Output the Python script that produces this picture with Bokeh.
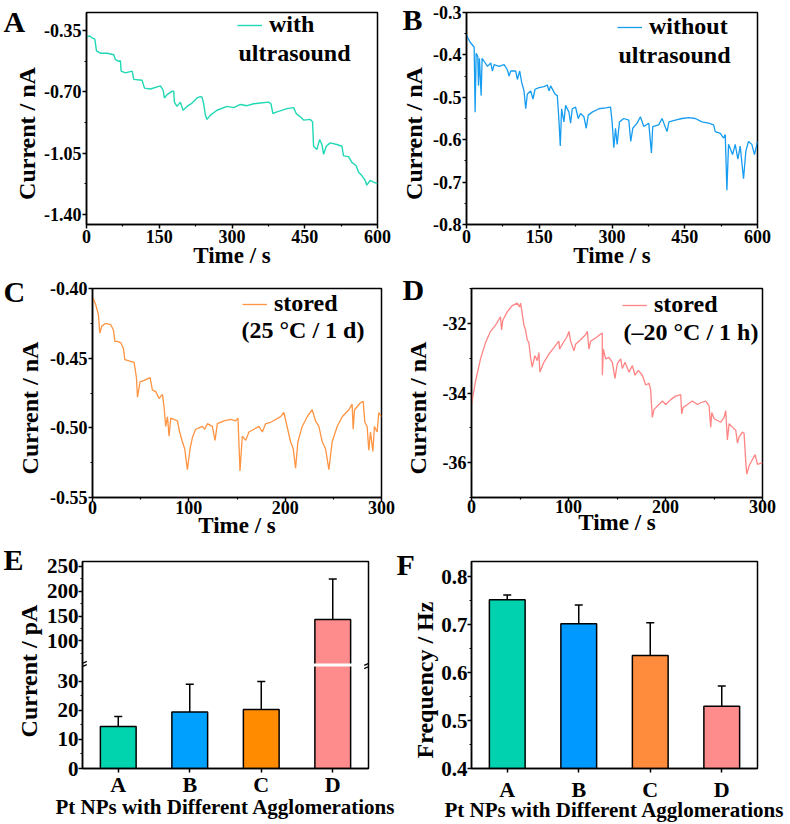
from bokeh.plotting import figure
from bokeh.layouts import column, row
from bokeh.models import (Range1d, FixedTicker, NumeralTickFormatter, Legend, LegendItem,
                          Label, Whisker, TeeHead, ColumnDataSource, Arrow)
from bokeh.embed import file_html
from bokeh.resources import INLINE

FONT = "Liberation Serif"
NB = "\u00a0"

# ---------------- data ----------------
a_time = [0, 6.9, 11.7, 17.2, 20.6, 28.8, 42.6, 56.3, 59.7, 66.6, 70.0, 71.4, 80.3, 94.1, 97.5, 114.6,
          119.5, 131.8, 152.4, 157.9, 160.6, 166.1, 176.4, 179.9, 181.2, 186.7, 193.6, 199.1, 207.3,
          217.6, 227.9, 234.8, 238.2, 241.6, 245.1, 248.5, 255.4, 269.1, 289.7, 303.4, 317.2, 330.9,
          344.6, 358.4, 375.5, 380.3, 384.4, 392.7, 413.3, 427.0, 432.5, 440.7, 447.6, 461.3, 466.1,
          468.2, 475.1, 480.6, 485.4, 488.8, 494.3, 502.5, 516.3, 526.6, 530.0, 540.3, 547.2, 556.1,
          560.9, 567.7, 574.6, 578.0, 584.9, 591.8, 600.0]
a_current = [-0.387, -0.382, -0.393, -0.400, -0.467, -0.480, -0.480, -0.489, -0.517, -0.527, -0.523,
             -0.582, -0.592, -0.582, -0.629, -0.634, -0.679, -0.684, -0.666, -0.690, -0.735, -0.716,
             -0.697, -0.697, -0.759, -0.783, -0.759, -0.805, -0.783, -0.764, -0.735, -0.727, -0.731,
             -0.768, -0.833, -0.857, -0.833, -0.805, -0.783, -0.790, -0.772, -0.779, -0.768, -0.764,
             -0.759, -0.768, -0.824, -0.814, -0.796, -0.790, -0.824, -0.842, -0.861, -0.857, -0.870,
             -1.010, -1.028, -0.972, -1.000, -1.056, -1.010, -0.991, -1.000, -1.010, -1.065, -1.069,
             -1.102, -1.121, -1.158, -1.177, -1.205, -1.232, -1.205, -1.214, -1.223]

b_time = [0, 6.9, 15.8, 17.8, 19.9, 23.3, 24.7, 26.7, 30.2, 32.2, 36.3, 43.2, 50.1, 53.5, 56.9, 67.2,
          77.5, 84.3, 87.8, 91.2, 101.5, 104.9, 109.7, 113.8, 118.6, 122.1, 125.5, 132.3, 137.1, 141.3,
          149.5, 159.8, 166.6, 170.1, 173.5, 182.4, 187.2, 190.6, 193.4, 196.1, 200.9, 204.3, 211.2,
          214.6, 218.1, 224.9, 230.4, 235.2, 242.1, 246.9, 251.0, 259.2, 272.9, 286.6, 296.9, 300.3,
          303.8, 307.2, 310.6, 315.4, 324.3, 334.6, 338.7, 342.9, 351.8, 358.6, 365.5, 375.8, 381.3,
          384.0, 396.3, 403.2, 413.5, 417.4, 430.6, 444.3, 458.1, 471.8, 485.5, 499.2, 509.5, 512.9,
          523.2, 530.1, 533.5, 536.9, 540.3, 548.6, 554.0, 559.5, 564.3, 571.2, 576.0, 581.5, 588.3,
          593.8, 600]
b_current = [-0.354, -0.369, -0.382, -0.535, -0.396, -0.404, -0.473, -0.408, -0.496, -0.408, -0.415,
             -0.427, -0.419, -0.438, -0.423, -0.427, -0.423, -0.435, -0.450, -0.438, -0.438, -0.458,
             -0.438, -0.465, -0.485, -0.527, -0.492, -0.485, -0.504, -0.481, -0.477, -0.475, -0.471,
             -0.485, -0.473, -0.492, -0.496, -0.554, -0.615, -0.527, -0.558, -0.519, -0.535, -0.561,
             -0.527, -0.523, -0.550, -0.538, -0.546, -0.573, -0.542, -0.535, -0.527, -0.525, -0.523,
             -0.558, -0.619, -0.573, -0.611, -0.558, -0.550, -0.554, -0.604, -0.573, -0.561, -0.546,
             -0.569, -0.561, -0.631, -0.569, -0.565, -0.550, -0.581, -0.558, -0.554, -0.550, -0.548,
             -0.550, -0.558, -0.561, -0.565, -0.581, -0.585, -0.596, -0.588, -0.719, -0.611, -0.635,
             -0.611, -0.646, -0.615, -0.692, -0.627, -0.604, -0.611, -0.635, -0.604]

c_time = [0.7, 3.5, 6.2, 7.6, 9.7, 13.8, 19.0, 21.8, 23.2, 25.9, 29.4, 32.1, 33.5, 38.0, 43.2, 45.6,
          46.7, 49.4, 53.6, 59.8, 62.2, 65.7, 69.1, 72.6, 74.3, 76.0, 77.8, 79.5, 81.2, 84.7, 88.1,
          90.5, 93.3, 95.7, 98.5, 101.3, 103.7, 107.1, 110.6, 114.0, 116.5, 119.2, 124.4, 127.2, 129.6,
          136.5, 143.4, 148.6, 151.0, 153.1, 155.5, 159.0, 162.4, 167.6, 172.8, 176.3, 179.7, 184.9,
          190.1, 195.3, 198.7, 205.6, 208.4, 210.8, 213.2, 217.7, 222.9, 228.1, 231.5, 235.0, 238.5,
          241.9, 245.4, 248.8, 254.0, 259.2, 266.1, 269.5, 270.6, 272.0, 278.2, 281.0, 282.7, 285.1,
          286.8, 288.6, 291.0, 292.7, 295.5, 297.2, 300]
c_current = [-0.407, -0.412, -0.419, -0.432, -0.427, -0.425, -0.426, -0.430, -0.438, -0.438, -0.439,
             -0.443, -0.451, -0.452, -0.453, -0.464, -0.478, -0.467, -0.466, -0.464, -0.473, -0.474,
             -0.479, -0.476, -0.485, -0.499, -0.492, -0.506, -0.493, -0.494, -0.495, -0.503, -0.510,
             -0.515, -0.530, -0.515, -0.507, -0.501, -0.500, -0.499, -0.501, -0.497, -0.499, -0.509,
             -0.497, -0.495, -0.494, -0.495, -0.493, -0.531, -0.506, -0.509, -0.503, -0.501, -0.499,
             -0.503, -0.497, -0.496, -0.494, -0.492, -0.489, -0.510, -0.515, -0.529, -0.510, -0.499,
             -0.492, -0.487, -0.495, -0.499, -0.510, -0.515, -0.530, -0.510, -0.499, -0.492, -0.487,
             -0.483, -0.501, -0.487, -0.482, -0.481, -0.496, -0.499, -0.516, -0.503, -0.517, -0.499,
             -0.503, -0.489, -0.492]

d_time = [0, 4.1, 9.3, 14.4, 19.6, 24.8, 29.9, 31.0, 32.3, 36.8, 42.0, 47.1, 49.5, 50.6, 52.3, 54.0,
          55.7, 57.4, 59.2, 60.9, 62.6, 65.4, 67.8, 69.5, 70.5, 74.6, 79.8, 85.0, 90.1, 90.8, 93.6,
          98.7, 100.4, 102.2, 105.6, 107.3, 112.5, 117.6, 119.4, 121.1, 122.8, 128.0, 132.1, 134.8,
          134.9, 135.9, 138.3, 141.7, 145.2, 147.9, 150.3, 153.8, 155.5, 158.2, 162.4, 165.8, 168.6,
          172.0, 176.1, 179.6, 183.0, 184.7, 186.4, 188.2, 193.3, 196.8, 200.2, 205.4, 210.5, 215.7,
          216.7, 218.1, 222.6, 227.7, 232.9, 236.3, 241.5, 244.9, 246.6, 247.7, 250.1, 253.5, 257.0,
          260.4, 262.1, 263.8, 265.6, 269.0, 272.4, 274.2, 275.9, 279.3, 281.0, 282.8, 283.8, 286.2,
          289.6, 292.4, 294.8, 300]
d_current = [-34.33, -33.67, -33.02, -32.56, -32.23, -32.05, -31.81, -32.19, -31.91, -31.67, -31.49,
             -31.42, -31.53, -31.42, -31.72, -32.05, -32.19, -32.47, -32.56, -32.98, -33.26, -32.93,
             -33.07, -32.84, -33.40, -33.12, -32.88, -32.70, -32.51, -32.74, -32.60, -32.37, -32.23,
             -32.51, -32.79, -32.60, -32.47, -32.33, -32.23, -32.74, -32.51, -32.42, -32.33, -32.28,
             -33.49, -32.74, -33.02, -32.98, -33.12, -33.58, -33.16, -33.02, -33.30, -33.12, -33.40,
             -33.21, -33.49, -33.35, -33.49, -33.77, -33.72, -33.91, -34.70, -34.47, -34.33, -34.23,
             -34.33, -34.19, -34.09, -34.05, -34.60, -34.42, -34.33, -34.23, -34.33, -34.28, -34.23,
             -34.37, -34.98, -34.56, -34.74, -34.79, -34.84, -34.70, -34.51, -35.35, -34.88, -34.98,
             -35.07, -35.44, -35.26, -35.12, -35.16, -36.00, -36.33, -36.09, -35.91, -35.77, -36.05,
             -36.00]

groups = ["A", "B", "C", "D"]
e_current_pA = [14.4, 19.4, 20.25, 143.0]
e_error_pA = [3.45, 9.5, 9.65, 81.0]
f_frequency = [0.752, 0.702, 0.636, 0.530]
f_error = [0.010, 0.039, 0.068, 0.042]

e_colors = ["#00D4AE", "#00A0FF", "#FF8C00", "#FF8C8C"]
f_colors = ["#00D2B0", "#0099FF", "#FF8C3C", "#FF8C8C"]

# ---------------- helpers ----------------

def make_fig(w, h, bl, br, bt, bb, xr, yr, tick_size="18px"):
    p = figure(width=w, height=h, x_range=Range1d(*xr), y_range=Range1d(*yr),
               output_backend="svg", toolbar_location=None,
               min_border_left=bl, min_border_right=br, min_border_top=bt, min_border_bottom=bb)
    p.xgrid.visible = False
    p.ygrid.visible = False
    p.outline_line_color = "black"
    p.outline_line_width = 1.5
    p.outline_line_alpha = 1.0
    p.background_fill_color = "white"
    p.border_fill_color = "white"
    for ax in (p.xaxis[0], p.yaxis[0]):
        ax.axis_line_width = 1.5
        ax.axis_line_color = "black"
        ax.major_tick_in = 0
        ax.major_tick_out = 4
        ax.minor_tick_in = 0
        ax.minor_tick_out = 2
        ax.major_tick_line_width = 1.5
        ax.minor_tick_line_width = 1.2
        ax.major_label_text_font = FONT
        ax.major_label_text_font_style = "bold"
        ax.major_label_text_font_size = tick_size
        ax.major_label_text_color = "black"
        ax.axis_label_text_font = FONT
        ax.axis_label_text_font_style = "bold"
        ax.axis_label_text_color = "black"
    p.yaxis.major_label_standoff = 1
    return p


def add_legend(p, renderer, first, second, vx, vy, lx, ly):
    leg = Legend(items=[LegendItem(label=first, renderers=[renderer])], location=(vx, vy),
                 padding=0, margin=0, spacing=0, glyph_width=25, glyph_height=20, label_height=20,
                 label_standoff=7, border_line_alpha=0, background_fill_alpha=0,
                 label_text_font=FONT, label_text_font_style="bold", label_text_font_size="24px",
                 label_text_color="black")
    p.add_layout(leg)
    p.add_layout(Label(x=lx, y=ly, x_units="screen", y_units="screen", text=second,
                       text_font=FONT, text_font_style="bold", text_font_size="24px",
                       text_color="black", text_baseline="middle"))


def set_letter(p, letter, offset, standoff):
    # panel letter drawn as the figure title, pulled left of / down beside the frame
    p.title.text = letter
    p.title.align = "left"
    p.title.vertical_align = "bottom"
    p.title.offset = offset
    p.title.standoff = standoff
    p.title.text_font = FONT
    p.title.text_font_style = "bold"
    p.title.text_font_size = "30px"
    p.title.text_color = "black"


YLAB_PAD = NB * 5   # label sits a little below the frame centre in the original

# ---------------- A ----------------
pA = make_fig(395, 270, 86, 18, 10, 43, (0, 600), (-1.456, -0.248))
pA.xaxis.ticker = FixedTicker(ticks=[0, 150, 300, 450, 600], minor_ticks=[75, 225, 375, 525])
pA.yaxis.ticker = FixedTicker(ticks=[-0.35, -0.70, -1.05, -1.40], minor_ticks=[-0.525, -0.875, -1.225])
pA.yaxis.formatter = NumeralTickFormatter(format="0.00")
pA.xaxis.axis_label = "Time / s"
pA.yaxis.axis_label = "Current / nA" + YLAB_PAD
pA.xaxis.axis_label_text_font_size = "23px"
pA.yaxis.axis_label_text_font_size = "24px"
pA.yaxis.axis_label_standoff = 1
pA.xaxis.major_label_standoff = 1
pA.xaxis.axis_label_standoff = -3
rA = pA.line(a_time, a_current, line_color="#20D8B4", line_width=1.4)
add_legend(pA, rA, "with", "ultrasound", 151, 186, 152, 172)
set_letter(pA, "A", -83, -50)

# ---------------- B ----------------
pB = make_fig(395, 270, 71, 33, 12, 42, (0, 600), (-0.8, -0.3))
pB.xaxis.ticker = FixedTicker(ticks=[0, 150, 300, 450, 600], minor_ticks=[75, 225, 375, 525])
pB.yaxis.ticker = FixedTicker(ticks=[-0.3, -0.4, -0.5, -0.6, -0.7, -0.8],
                              minor_ticks=[-0.35, -0.45, -0.55, -0.65, -0.75])
pB.yaxis.formatter = NumeralTickFormatter(format="0.0")
pB.xaxis.axis_label = "Time / s"
pB.yaxis.axis_label = "Current / nA" + YLAB_PAD
pB.xaxis.axis_label_text_font_size = "23px"
pB.yaxis.axis_label_text_font_size = "24px"
pB.yaxis.axis_label_standoff = 3
pB.xaxis.major_label_standoff = 1
pB.xaxis.axis_label_standoff = -3
rB = pB.line(b_time, b_current, line_color="#169CF0", line_width=1.3)
add_legend(pB, rB, "without", "ultrasound", 151, 184, 152, 170)
set_letter(pB, "B", -64, -46)

# ---------------- C ----------------
pC = make_fig(395, 270, 92, 14, 16, 40, (0, 300), (-0.55, -0.40))
pC.xaxis.ticker = FixedTicker(ticks=[0, 100, 200, 300], minor_ticks=[50, 150, 250])
pC.yaxis.ticker = FixedTicker(ticks=[-0.40, -0.45, -0.50, -0.55], minor_ticks=[-0.425, -0.475, -0.525])
pC.yaxis.formatter = NumeralTickFormatter(format="0.00")
pC.xaxis.axis_label = "Time / s"
pC.yaxis.axis_label = "Current / nA" + YLAB_PAD
pC.xaxis.axis_label_text_font_size = "23px"
pC.yaxis.axis_label_text_font_size = "24px"
pC.yaxis.axis_label_standoff = 4
pC.xaxis.major_label_standoff = -1
pC.xaxis.axis_label_standoff = -4
rC = pC.line(c_time, c_current, line_color="#FF9442", line_width=1.3)
add_legend(pC, rC, "stored", "(25 °C / 1 d)", 150, 180, 149, 168)
set_letter(pC, "C", -89, -38)

# ---------------- D ----------------
pD = make_fig(395, 270, 76, 28, 18, 37, (0, 300), (-37, -31))
pD.xaxis.ticker = FixedTicker(ticks=[0, 100, 200, 300], minor_ticks=[50, 150, 250])
pD.yaxis.ticker = FixedTicker(ticks=[-32, -34, -36], minor_ticks=[-31, -33, -35, -37])
pD.yaxis.formatter = NumeralTickFormatter(format="0")
pD.xaxis.axis_label = "Time / s"
pD.yaxis.axis_label = "Current / nA" + YLAB_PAD
pD.xaxis.axis_label_text_font_size = "23px"
pD.yaxis.axis_label_text_font_size = "24px"
pD.yaxis.axis_label_standoff = 9
pD.xaxis.major_label_standoff = -2
pD.xaxis.axis_label_standoff = -6
rD = pD.line(d_time, d_current, line_color="#FF8585", line_width=1.3)
add_legend(pD, rD, "stored", "(\u201320 °C / 1 h)", 151, 179, 152, 166)
set_letter(pD, "D", -69, -34)

# ---------------- E (broken axis) ----------------
LOW_MAX = 35.0       # top of lower segment (pA)
GAP_TOP = 36.1       # display position where upper segment starts
UPPER_MIN = 55.0     # value at start of upper segment (pA)
UPPER_K = 0.1713     # display units per pA in upper segment
E_DISPLAY_TOP = 71.1


def disp(v):
    return v if v <= LOW_MAX else GAP_TOP + (v - UPPER_MIN) * UPPER_K


x_pos = [1, 2, 3, 4]
pE = make_fig(395, 284, 82, 27, 21, 52, (0.5, 4.5), (0, E_DISPLAY_TOP), tick_size="21px")
low_ticks = [0.0, 10.0, 20.0, 30.0]
up_ticks = [100.0, 150.0, 200.0, 250.0]
major_e = low_ticks + [disp(v) for v in up_ticks]
minor_e = [5.0, 15.0, 25.0] + [disp(v) for v in [75.0, 125.0, 175.0, 225.0]]
pE.yaxis.ticker = FixedTicker(ticks=major_e, minor_ticks=minor_e)
pE.yaxis.major_label_overrides = {t: str(int(v)) for t, v in zip(major_e, low_ticks + up_ticks)}
pE.xaxis.ticker = FixedTicker(ticks=x_pos, minor_ticks=[])
pE.xaxis.major_label_overrides = {x: g for x, g in zip(x_pos, groups)}
pE.xaxis.major_label_text_font_size = "22px"
pE.xaxis.axis_label = "Pt NPs with Different Agglomerations"
pE.yaxis.axis_label = "Current / pA" + NB * 2
pE.xaxis.axis_label_text_font_size = "21px"
pE.yaxis.axis_label_text_font_size = "24px"
pE.yaxis.major_label_standoff = 0
pE.yaxis.axis_label_standoff = 2
pE.xaxis.major_label_standoff = -1
pE.xaxis.axis_label_standoff = -5
pE.vbar(x=x_pos, top=[disp(v) for v in e_current_pA], bottom=0, width=0.5,
        fill_color=e_colors, line_color="black", line_width=1.5)
brk = [x for x, v in zip(x_pos, e_current_pA) if v > LOW_MAX]
pE.quad(left=[x - 0.27 for x in brk], right=[x + 0.27 for x in brk],
        bottom=LOW_MAX, top=GAP_TOP, fill_color="white", line_color=None)
e_src = ColumnDataSource(dict(
    base=x_pos,
    upper=[disp(v + e) for v, e in zip(e_current_pA, e_error_pA)],
    lower=[disp(v - e) for v, e in zip(e_current_pA, e_error_pA)]))
pE.add_layout(Whisker(source=e_src, base="base", upper="upper", lower="lower",
                      line_color="black", line_width=1.5,
                      upper_head=TeeHead(size=8, line_width=1.5, line_color="black"),
                      lower_head=TeeHead(size=8, line_width=1.5, line_color="black")))
brk_mid = (LOW_MAX + GAP_TOP) / 2
for xb in (0.5, 4.5):
    for off in (-0.55, 0.55):
        pE.add_layout(Arrow(x_start=xb - 0.06, y_start=brk_mid + off - 0.7,
                            x_end=xb + 0.06, y_end=brk_mid + off + 0.7,
                            start=None, end=None, line_color="black", line_width=1.3))
set_letter(pE, "E", -79, -28)

# ---------------- F ----------------
pF = make_fig(395, 284, 76, 33, 16, 55, (0.5, 4.5), (0.4, 0.832), tick_size="21px")
pF.yaxis.ticker = FixedTicker(ticks=[0.4, 0.5, 0.6, 0.7, 0.8], minor_ticks=[0.45, 0.55, 0.65, 0.75])
pF.yaxis.formatter = NumeralTickFormatter(format="0.0")
pF.xaxis.ticker = FixedTicker(ticks=x_pos, minor_ticks=[])
pF.xaxis.major_label_overrides = {x: g for x, g in zip(x_pos, groups)}
pF.xaxis.major_label_text_font_size = "22px"
pF.xaxis.axis_label = "Pt NPs with Different Agglomerations"
pF.yaxis.axis_label = "Frequency / Hz" + YLAB_PAD
pF.xaxis.axis_label_text_font_size = "21px"
pF.yaxis.axis_label_text_font_size = "24px"
pF.yaxis.major_label_standoff = 0
pF.yaxis.axis_label_standoff = 0
pF.xaxis.major_label_standoff = 4
pF.xaxis.axis_label_standoff = -7
pF.vbar(x=x_pos, top=f_frequency, bottom=0, width=0.5,
        fill_color=f_colors, line_color="black", line_width=1.5)
f_src = ColumnDataSource(dict(
    base=x_pos,
    upper=[v + e for v, e in zip(f_frequency, f_error)],
    lower=[v - e for v, e in zip(f_frequency, f_error)]))
pF.add_layout(Whisker(source=f_src, base="base", upper="upper", lower="lower",
                      line_color="black", line_width=1.5,
                      upper_head=TeeHead(size=8, line_width=1.5, line_color="black"),
                      lower_head=TeeHead(size=8, line_width=1.5, line_color="black")))
set_letter(pF, "F", -75, -38)

layout = column(row(pA, pB, spacing=0), row(pC, pD, spacing=0), row(pE, pF, spacing=0), spacing=0)

open("out.html", "w").write(file_html(layout, INLINE))
